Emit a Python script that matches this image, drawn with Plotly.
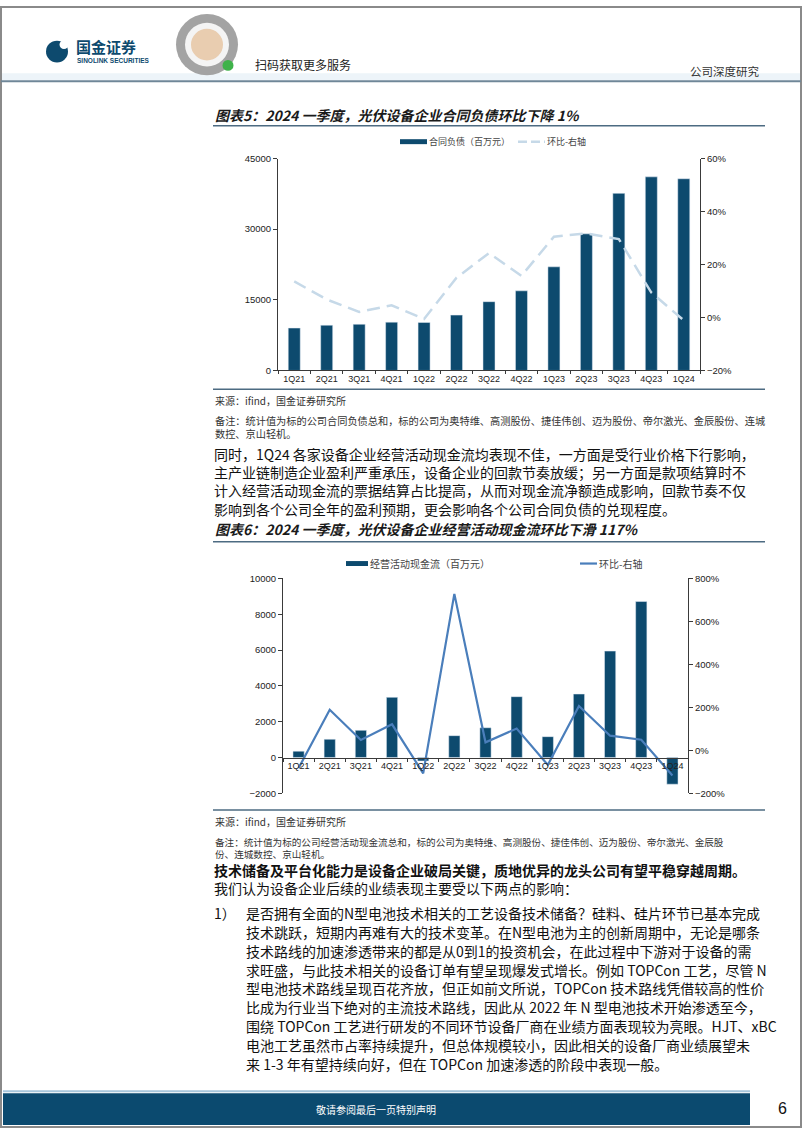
import plotly.graph_objects as go

W, H = 802, 1133
CJK = "Noto Sans CJK SC"
LAT = "Liberation Sans, Arial"

# ---------------- data ----------------
quarters = ["1Q21", "2Q21", "3Q21", "4Q21", "1Q22", "2Q22", "3Q22",
            "4Q22", "1Q23", "2Q23", "3Q23", "4Q23", "1Q24"]
contract_liab = [9000, 9600, 9800, 10250, 10190, 11750, 14600,
                 16900, 22000, 29000, 37600, 41100, 40700]
contract_qoq = [0.136, 0.068, 0.021, 0.046, -0.006, 0.150, 0.243,
                0.157, 0.305, 0.317, 0.296, 0.094, -0.011]
op_cashflow = [350, 1015, 1513, 3358, -195, 1218, 1660,
               3395, 1162, 3542, 5941, 8708, -1494]
op_qoq = [-0.83, 1.89, 0.48, 1.21, -1.07, 7.28, 0.37,
          1.01, -0.68, 2.06, 0.68, 0.49, -1.17]

bar_name1 = "合同负债（百万元）"
bar_name2 = "经营活动现金流（百万元）"
line_name = "环比-右轴"

BAR = "#0d4a6e"
LINE1 = "#c6d9e8"
LINE2 = "#4a7ebb"
AX = "#3a3a3a"
RULE = "#4d6b82"


def px(x):
    return x / W


def py(y):
    return 1 - y / H


fig = go.Figure()

# chart 1
fig.add_trace(go.Bar(x=quarters, y=contract_liab, name=bar_name1, marker_color=BAR,
                     width=0.37, xaxis="x", yaxis="y", showlegend=False))
fig.add_trace(go.Scatter(x=quarters, y=contract_qoq, name=line_name, mode="lines",
                         line=dict(color=LINE1, width=2.5, dash="13px,7px"),
                         xaxis="x", yaxis="y2", showlegend=False))
# chart 2
fig.add_trace(go.Bar(x=quarters, y=op_cashflow, name=bar_name2, marker_color=BAR,
                     width=0.36, xaxis="x2", yaxis="y3", showlegend=False))
fig.add_trace(go.Scatter(x=quarters, y=op_qoq, name=line_name, mode="lines",
                         line=dict(color=LINE2, width=2.2),
                         xaxis="x2", yaxis="y4", showlegend=False))

tickfont = dict(family=LAT, size=9.5, color="#222")
xtickfont = dict(family=LAT, size=9, color="#222")
axcommon = dict(showline=True, linecolor=AX, linewidth=1, showgrid=False,
                zeroline=False, ticks="outside",
                tickcolor=AX, ticklen=4, fixedrange=True)

fig.update_layout(
    width=W, height=H, margin=dict(l=0, r=0, t=0, b=0),
    paper_bgcolor="white", plot_bgcolor="white", showlegend=False,
    xaxis=dict(domain=[px(278), px(700)], anchor="y", type="category",
               tickson="boundaries", tickangle=0, tickfont=xtickfont,
               **{**axcommon, "ticklen": 3}),
    yaxis=dict(domain=[py(368), py(154)], range=[0, 45000], dtick=15000,
               tickformat="d", anchor="x", tickfont=tickfont, **axcommon),
    yaxis2=dict(overlaying="y", side="right", anchor="x", range=[-0.2, 0.6],
                dtick=0.2, tickformat=".0%", tickfont=tickfont, **axcommon),
    xaxis2=dict(domain=[px(283), px(688)], anchor="free", position=py(759),
                type="category", tickson="boundaries", tickangle=0,
                tickfont=xtickfont, **{**axcommon, "ticklen": 3}),
    yaxis3=dict(domain=[py(795), py(578)], range=[-2000, 10000], dtick=2000,
                tickformat="d", anchor="x2", tickfont=tickfont, **axcommon),
    yaxis4=dict(overlaying="y3", side="right", anchor="x2", range=[-2, 8],
                dtick=2, tickformat=".0%", tickfont=tickfont, **axcommon),
)

shapes = []
ann = []


def rect(x0, y0, x1, y1, fill, line=None, lw=0):
    shapes.append(dict(type="rect", xref="paper", yref="paper",
                       x0=px(x0), x1=px(x1), y0=py(y1), y1=py(y0),
                       fillcolor=fill, line=dict(color=line or fill, width=lw),
                       layer="below"))


def hline(x0, x1, y, color, w=1.0, dash="solid"):
    shapes.append(dict(type="line", xref="paper", yref="paper",
                       x0=px(x0), x1=px(x1), y0=py(y), y1=py(y),
                       line=dict(color=color, width=w, dash=dash)))


def circle(cx, cy, r, fill, line=None, lw=0):
    shapes.append(dict(type="circle", xref="paper", yref="paper",
                       x0=px(cx - r), x1=px(cx + r), y0=py(cy + r), y1=py(cy - r),
                       fillcolor=fill, line=dict(color=line or fill, width=lw)))


def txt(x, y, s, size, color="#111", bold=False, italic=False, family=CJK,
        anchor="left", yanchor="middle"):
    ann.append(dict(x=px(x), y=py(y), xref="paper", yref="paper", text=s,
                    showarrow=False, xanchor=anchor, yanchor=yanchor, align="left",
                    borderpad=0,
                    font=dict(size=size, color=color, family=family,
                              weight="bold" if bold else "normal",
                              style="italic" if italic else "normal")))


# page border
shapes.append(dict(type="rect", xref="paper", yref="paper", x0=px(1), x1=px(801),
                   y0=py(1132), y1=py(1), fillcolor="rgba(0,0,0,0)",
                   line=dict(color="#8a8a8a", width=2)))

# ---------------- header ----------------
rect(2, 68, 800, 75, "#edf4f9")
hline(1, 801, 76, "#6f8798", 2)
circle(57, 46, 11, BAR)
circle(64, 39, 4.5, "white")
txt(75, 41, "国金证券", 15, color=BAR, bold=True)
txt(76, 55, "SINOLINK SECURITIES", 6.5, color=BAR, bold=True, family=LAT)
circle(207, 39, 31, "#a3a3a3")
circle(207, 39, 22, "#f4f4f4")
circle(207, 39, 16, "#e9cdb0")
circle(228, 60, 5.5, "#3fb24a")
txt(254, 59, "扫码获取更多服务", 12, color="#222")
txt(760, 66, "公司深度研究", 11.5, color="#333", anchor="right")

# ---------------- chart 1 block ----------------
txt(214, 110, "图表5：2024 一季度，光伏设备企业合同负债环比下降 1%", 14,
    color="#1a1a1a", bold=True, italic=True)
hline(213, 765, 121, RULE, 1.5)
# legend 1
rect(400, 134.5, 427, 139.5, BAR)
txt(428, 137, bar_name1, 9, color="#444")
hline(518, 545, 137, LINE1, 2.5, dash="9px,4px")
txt(546, 137, line_name, 9, color="#444")
hline(213, 765, 387, RULE, 1.5)
txt(214, 398, "来源：ifind，国金证券研究所", 10, color="#333")
txt(214, 425, "备注：统计值为标的公司合同负债总和，标的公司为奥特维、高测股份、捷佳伟创、迈为股份、帝尔激光、金辰股份、连城"
    "<br>数控、京山轻机。", 10.2, color="#333")

para = [
    "同时，1Q24 各家设备企业经营活动现金流均表现不佳，一方面是受行业价格下行影响，",
    "主产业链制造企业盈利严重承压，设备企业的回款节奏放缓；另一方面是款项结算时不",
    "计入经营活动现金流的票据结算占比提高，从而对现金流净额造成影响，回款节奏不仅",
    "影响到各个公司全年的盈利预期，更会影响各个公司合同负债的兑现程度。",
]
txt(213, 480, "<br>".join(para), 14)

# ---------------- chart 2 block ----------------
txt(214, 528, "图表6：2024 一季度，光伏设备企业经营活动现金流环比下滑 117%", 14,
    color="#1a1a1a", bold=True, italic=True)
hline(213, 765, 541, RULE, 1.5)
rect(346, 560.5, 368, 565.5, BAR)
txt(369, 563, bar_name2, 10, color="#444")
hline(580, 597, 563, LINE2, 2.2)
txt(598, 563, line_name, 10, color="#444")
hline(213, 765, 812, RULE, 1.5)
txt(214, 823, "来源：ifind，国金证券研究所", 10, color="#333")
txt(214, 850, "备注：统计值为标的公司经营活动现金流总和，标的公司为奥特维、高测股份、捷佳伟创、迈为股份、帝尔激光、金辰股"
    "<br>份、连城数控、京山轻机。", 9.6, color="#333")

txt(213, 882, "<b>技术储备及平台化能力是设备企业破局关键，质地优异的龙头公司有望平稳穿越周期。</b>"
    "<br>我们认为设备企业后续的业绩表现主要受以下两点的影响：", 14)

item = [
    "是否拥有全面的N型电池技术相关的工艺设备技术储备？硅料、硅片环节已基本完成",
    "技术跳跃，短期内再难有大的技术变革。在N型电池为主的创新周期中，无论是哪条",
    "技术路线的加速渗透带来的都是从0到1的投资机会，在此过程中下游对于设备的需",
    "求旺盛，与此技术相关的设备订单有望呈现爆发式增长。例如 TOPCon 工艺，尽管 N",
    "型电池技术路线呈现百花齐放，但正如前文所说，TOPCon 技术路线凭借较高的性价",
    "比成为行业当下绝对的主流技术路线，因此从 2022 年 N 型电池技术开始渗透至今，",
    "围绕 TOPCon 工艺进行研发的不同环节设备厂商在业绩方面表现较为亮眼。HJT、xBC",
    "电池工艺虽然市占率持续提升，但总体规模较小，因此相关的设备厂商业绩展望未",
    "来 1-3 年有望持续向好，但在 TOPCon 加速渗透的阶段中表现一般。",
]
txt(213, 916, "1）", 14)
for i, s in enumerate(item):
    txt(245, 916 + i * 19, s, 14)

# ---------------- footer ----------------
hline(3, 750, 1096, "#a6c6dc", 2)
rect(3, 1098, 750, 1130, "#0b4a6f")
txt(376, 1114, "敬请参阅最后一页特别声明", 10, color="white", anchor="center")
txt(782, 1113, "6", 16, color="#111", family=LAT, anchor="center")

fig.update_layout(shapes=shapes, annotations=ann)

fig.write_html("out.html", config={"staticPlot": True},
               post_script="document.body.style.margin='0';document.body.style.overflow='hidden';")
